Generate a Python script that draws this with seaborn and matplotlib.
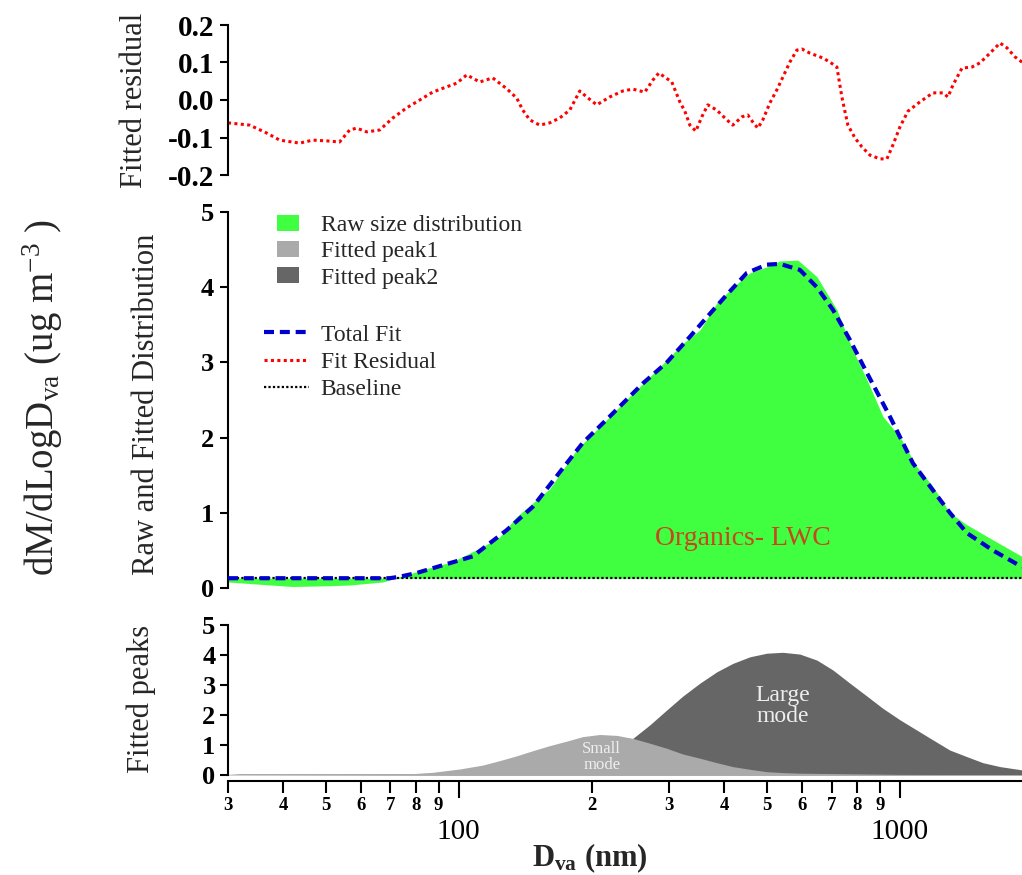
import matplotlib
matplotlib.use("Agg")
import matplotlib.pyplot as plt
from matplotlib.patches import Patch
from matplotlib.lines import Line2D
import seaborn as sns

# ---------------- data ----------------
# Fit residual (top panel)
resid_dva = [30.0, 33.6, 36.7, 39.3, 43.6, 46.7, 50.2, 53.7, 56.6, 58.7, 61.9, 66.2,
             70.9, 76.2, 81.6, 87.3, 93.9, 99.0, 104.3, 111.6, 119.4, 128.5, 135.4,
             139.7, 144.9, 152.6, 160.8, 169.4, 178.5, 188.1, 195.1, 205.5, 219.9,
             235.4, 248.1, 264.1, 275.4, 284.2, 304.1, 317.1, 325.5, 334.1, 344.7,
             355.6, 366.9, 384.6, 405.2, 418.1, 438.2, 452.1, 464.2, 476.4, 489.0,
             507.2, 526.1, 542.8, 563.0, 584.0, 599.5, 625.0, 669.0, 693.9, 719.6,
             738.7, 750.4, 762.3, 790.7, 820.0, 855.1, 900.7, 934.3, 964.1, 1000.0,
             1042.6, 1110.2, 1187.9, 1252.0, 1284.9, 1319.0, 1382.5, 1456.7, 1518.7,
             1600.0, 1686.0, 1748.4, 1823.2, 1891.0]
resid_val = [-0.061, -0.067, -0.088, -0.107, -0.115, -0.107, -0.109, -0.112, -0.080,
             -0.075, -0.085, -0.080, -0.048, -0.021, 0.000, 0.021, 0.035, 0.045, 0.067,
             0.048, 0.059, 0.030, 0.005, -0.027, -0.053, -0.067, -0.061, -0.048, -0.027,
             0.024, 0.008, -0.013, 0.008, 0.024, 0.029, 0.021, 0.053, 0.072, 0.048,
             -0.005, -0.030, -0.067, -0.083, -0.045, -0.013, -0.027, -0.053, -0.067,
             -0.045, -0.040, -0.059, -0.075, -0.053, -0.008, 0.027, 0.061, 0.101, 0.133,
             0.136, 0.125, 0.112, 0.101, 0.088, 0.008, -0.030, -0.067, -0.101, -0.125,
             -0.147, -0.157, -0.157, -0.120, -0.072, -0.030, -0.005, 0.019, 0.019, 0.008,
             0.040, 0.085, 0.088, 0.099, 0.125, 0.152, 0.139, 0.115, 0.101]

# Raw size distribution (middle panel, green)
raw_dva = [30.0, 35.4, 42.0, 51.0, 56.6, 67.3, 73.5, 87.3, 96.9, 113.3, 123.9, 135.4,
           160.8, 185.1, 219.9, 248.1, 281.2, 322.0, 352.0, 384.6, 418.1, 457.1, 499.3,
           534.5, 587.2, 648.3, 719.6, 782.5, 841.9, 915.2, 1000.0, 1093.0, 1187.9,
           1298.0, 1419.0, 1625.0, 1891.0]
raw_val = [0.08, 0.05, 0.02, 0.03, 0.04, 0.08, 0.15, 0.28, 0.35, 0.55, 0.68, 0.95,
           1.32, 1.84, 2.28, 2.59, 2.90, 3.25, 3.43, 3.79, 4.00, 4.19, 4.27, 4.35, 4.36,
           4.14, 3.70, 3.16, 2.77, 2.28, 2.01, 1.61, 1.35, 1.00, 0.84, 0.64, 0.42]

# Total fit (middle panel, blue dashed)
fit_dva = [30.0, 43.6, 69.7, 73.5, 80.3, 95.4, 107.6, 128.5, 147.2, 175.8, 191.1,
           219.9, 261.4, 296.3, 334.1, 365.0, 405.2, 449.9, 499.3, 534.5, 593.4, 648.3,
           704.9, 770.3, 841.9, 949.0, 1000.0, 1070.0, 1187.9, 1298.0, 1419.0, 1625.0,
           1891.0]
fit_val = [0.13, 0.13, 0.13, 0.15, 0.20, 0.33, 0.42, 0.77, 1.08, 1.66, 1.93, 2.28,
           2.72, 3.00, 3.34, 3.60, 3.90, 4.19, 4.30, 4.31, 4.23, 4.00, 3.70, 3.30, 2.86,
           2.28, 2.01, 1.66, 1.30, 1.00, 0.73, 0.50, 0.28]

baseline_val = 0.13

# Fitted peaks (bottom panel)
peak1_dva = [30.0, 31.9, 43.6, 79.5, 87.3, 100.5, 113.3, 123.9, 135.4, 147.2, 160.8,
             175.8, 191.1, 208.7, 228.2, 248.1, 271.1, 296.3, 322.0, 352.0, 384.6,
             418.1, 457.1, 499.3, 542.8, 593.4, 1000.0, 1891.0]
peak1_val = [0.02, 0.05, 0.05, 0.05, 0.09, 0.20, 0.33, 0.48, 0.64, 0.81, 0.98,
             1.13, 1.28, 1.35, 1.32, 1.22, 1.06, 0.89, 0.70, 0.56, 0.41,
             0.28, 0.19, 0.11, 0.08, 0.06, 0.02, 0.01]

peak2_dva = [30.0, 123.9, 175.8, 208.7, 248.1, 271.1, 296.3, 322.0, 352.0, 384.6,
             418.1, 457.1, 499.3, 542.8, 593.4, 648.3, 704.9, 770.3, 841.9, 915.2,
             1000.0, 1187.9, 1298.0, 1419.0, 1542.0, 1686.0, 1891.0]
peak2_val = [0.00, 0.02, 0.40, 0.80, 1.22, 1.67, 2.17, 2.63, 3.06, 3.44,
             3.72, 3.94, 4.06, 4.09, 4.03, 3.83, 3.50, 3.06, 2.63, 2.22,
             1.84, 1.17, 0.83, 0.61, 0.41, 0.28, 0.17]

# axis ticks / labels
x_major = [100, 1000]
x_major_labels = ["100", "1000"]
x_minor = [30, 40, 50, 60, 70, 80, 90, 200, 300, 400, 500, 600, 700, 800, 900]
x_minor_labels = ["3", "4", "5", "6", "7", "8", "9", "2", "3", "4", "5", "6", "7", "8", "9"]
resid_ticks = [-0.2, -0.1, 0.0, 0.1, 0.2]
resid_tick_labels = ["-0.2", "-0.1", "0.0", "0.1", "0.2"]
dist_ticks = [0, 1, 2, 3, 4, 5]
dist_tick_labels = ["0", "1", "2", "3", "4", "5"]
x_limits = (30, 1891)

# ---------------- style ----------------
sns.set_theme(style="ticks")
plt.rcParams["font.family"] = ["Liberation Serif", "DejaVu Serif"]
plt.rcParams["mathtext.fontset"] = "custom"
plt.rcParams["mathtext.rm"] = "Liberation Serif"
plt.rcParams["mathtext.it"] = "Liberation Serif:italic"
plt.rcParams["mathtext.bf"] = "Liberation Serif:bold"
plt.rcParams["axes.linewidth"] = 1.5
plt.rcParams["axes.edgecolor"] = "black"

W, H = 1022, 875
fig = plt.figure(figsize=(W / 100, H / 100), dpi=100)
fig.patch.set_facecolor("white")

def px_axes(top_px, bottom_px):
    return fig.add_axes([228 / W, 1 - bottom_px / H, (W - 228) / W, (bottom_px - top_px) / H])

ax_top = px_axes(25, 175)
ax_mid = px_axes(212, 588)
ax_bot = px_axes(625, 775)

GREEN = "#40FF40"
LIGHT = "#AAAAAA"
DARK = "#666666"
BLUE = "#0000CD"

for ax in (ax_top, ax_mid, ax_bot):
    ax.set_facecolor("white")
    ax.set_xscale("log")
    ax.set_xlim(*x_limits)
    ax.spines["top"].set_visible(False)
    ax.spines["right"].set_visible(False)
    ax.grid(False)
    ax.tick_params(axis="y", length=6, width=1.5, pad=4, colors="black")

# ---- top panel: residual
sns.lineplot(x=resid_dva, y=resid_val, ax=ax_top, color="red", lw=2.2,
             linestyle=(0, (1, 1.1)))
ax_top.set_ylim(-0.2, 0.2)
ax_top.set_yticks(resid_ticks, labels=resid_tick_labels, fontsize=21, fontweight="bold")
ax_top.spines["bottom"].set_visible(False)
ax_top.set_xticks([], minor=False)
ax_top.set_xticks([], minor=True)
ax_top.set_xlabel("")
ax_top.set_ylabel("")

# ---- middle panel: raw distribution + fit
ax_mid.fill_between(raw_dva, raw_val, baseline_val, color=GREEN, lw=0, zorder=1)
ax_mid.axhline(baseline_val, color="black", lw=1.6, linestyle=(0, (1, 1)), zorder=2)
sns.lineplot(x=fit_dva, y=fit_val, ax=ax_mid, color=BLUE, lw=3.0,
             linestyle=(0, (2.4, 1.4)), zorder=3)
ax_mid.set_ylim(0, 5)
ax_mid.set_yticks(dist_ticks, labels=dist_tick_labels, fontsize=19, fontweight="bold")
ax_mid.spines["bottom"].set_visible(False)
ax_mid.set_xticks([], minor=False)
ax_mid.set_xticks([], minor=True)
ax_mid.set_xlabel("")
ax_mid.set_ylabel("")
ax_mid.text(440, 0.66, "Organics- LWC", color="#C8461E", fontsize=20,
            ha="center", va="center")

# legends
patch_handles = [Patch(facecolor=GREEN, edgecolor="none"),
                 Patch(facecolor=LIGHT, edgecolor="none"),
                 Patch(facecolor=DARK, edgecolor="none")]
patch_labels = ["Raw size distribution", "Fitted peak1", "Fitted peak2"]
leg1 = ax_mid.legend(patch_handles, patch_labels, loc="upper left",
                     bbox_to_anchor=(277 / W, 1 - 215 / H), bbox_transform=fig.transFigure,
                     frameon=False, fontsize=17, handlelength=0.95, handleheight=0.68,
                     handletextpad=0.9, labelspacing=0.2, borderpad=0, borderaxespad=0)
ax_mid.add_artist(leg1)
line_handles = [Line2D([], [], color=BLUE, lw=3.0, linestyle=(0, (2.4, 1.4))),
                Line2D([], [], color="red", lw=2.2, linestyle=(0, (1, 1.1))),
                Line2D([], [], color="black", lw=1.6, linestyle=(0, (1, 1)))]
line_labels = ["Total Fit", "Fit Residual", "Baseline"]
ax_mid.legend(line_handles, line_labels, loc="upper left",
              bbox_to_anchor=(264 / W, 1 - 324 / H), bbox_transform=fig.transFigure,
              frameon=False, fontsize=17, handlelength=1.9, handletextpad=0.5,
              labelspacing=0.25, borderpad=0, borderaxespad=0)

# ---- bottom panel: fitted peaks
ax_bot.fill_between(peak2_dva, peak2_val, 0, color=DARK, lw=0, zorder=1)
ax_bot.fill_between(peak1_dva, peak1_val, 0, color=LIGHT, lw=0, zorder=2)
ax_bot.set_ylim(0, 5)
ax_bot.set_yticks(dist_ticks, labels=dist_tick_labels, fontsize=19, fontweight="bold")
ax_bot.spines["bottom"].set_position(("outward", 4))
ax_bot.set_xticks(x_major, labels=x_major_labels, fontsize=21)
ax_bot.set_xticks(x_minor, labels=x_minor_labels, minor=True, fontsize=13.5,
                  fontweight="bold")
ax_bot.tick_params(axis="x", which="major", length=12, width=1.5, pad=16, colors="black")
ax_bot.tick_params(axis="x", which="minor", length=8.5, width=1.5, pad=3, colors="black")
ax_bot.tick_params(axis="y", pad=3)
ax_bot.set_xlabel("")
ax_bot.set_ylabel("")
ax_bot.text(543, 2.3, "Large\nmode", color="#EEEEEE", fontsize=17,
            ha="center", va="center", linespacing=1.0)
ax_bot.text(211, 0.6, "Small\nmode", color="#EEEEEE", fontsize=12,
            ha="center", va="center", linespacing=1.0)

# ---- axis titles
fig.text(134 / W, 1 - 100 / H, "Fitted residual", rotation=90, fontsize=22,
         ha="center", va="center")
fig.text(147 / W, 1 - 404 / H, "Raw and Fitted Distribution", rotation=90, fontsize=22,
         ha="center", va="center")
fig.text(141 / W, 1 - 699 / H, "Fitted peaks", rotation=90, fontsize=22,
         ha="center", va="center")
fig.text(43 / W, 1 - 398 / H, r"dM/dLogD$_{\mathrm{va}}$ (ug m$^{\mathrm{-3}}$ )",
         rotation=90, fontsize=28, ha="center", va="center")
fig.text(590 / W, 1 - 858 / H, r"D$_{\mathbf{va}}$ (nm)", fontsize=22,
         fontweight="bold", ha="center", va="center")

fig.savefig("out.png", dpi=100, facecolor="white")
